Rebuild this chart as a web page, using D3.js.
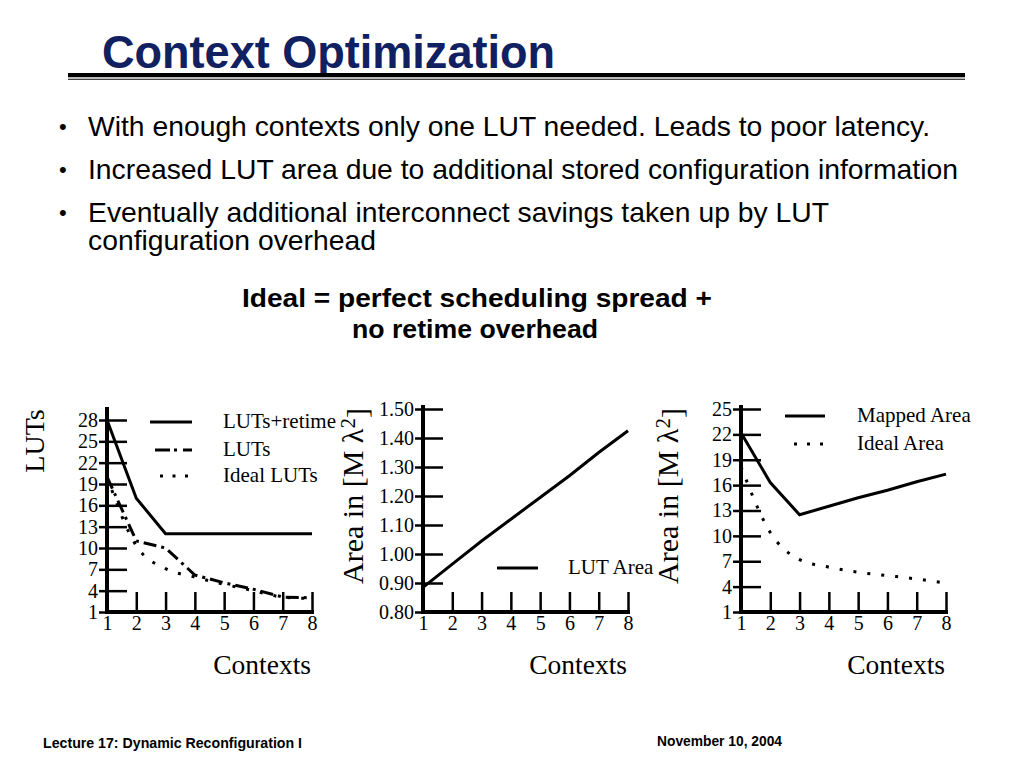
<!DOCTYPE html>
<html>
<head>
<meta charset="utf-8">
<script src="https://cdn.jsdelivr.net/npm/d3@7"></script>
<style>
  body { margin: 0; background: #fff; }
</style>
</head>
<body>
<svg id="slide" width="1024" height="768"></svg>
<script>
// contexts on the x axis of every chart
var contexts = [1, 2, 3, 4, 5, 6, 7, 8];

// left chart: LUT counts
var lutsRetime = [28, 17, 12, 12, 12, 12, 12, 12];
var luts = [20, 11, 10, 6.2, 5.1, 4.2, 3.1, 3];
var idealLuts = [20, 10.3, 7.1, 5.9, 4.9, 4.0, 3.1, 2.9];

// middle chart: LUT area
var lutArea = [0.885, 0.965, 1.045, 1.12, 1.195, 1.27, 1.35, 1.425];

// right chart: total area
var mappedArea = [22.2, 16.3, 12.5, 13.5, 14.5, 15.4, 16.4, 17.3];
var idealArea = [18.2, 10.4, 7.2, 6.3, 5.7, 5.3, 4.9, 4.4];

// tick labels
var lutTicks = [1, 4, 7, 10, 13, 16, 19, 22, 25, 28];
var areaTicks = [0.8, 0.9, 1.0, 1.1, 1.2, 1.3, 1.4, 1.5];
var mappedTicks = [1, 4, 7, 10, 13, 16, 19, 22, 25];

var bullets = [
  "With enough contexts only one LUT needed. Leads to poor latency.",
  "Increased LUT area due to additional stored configuration information",
  "Eventually additional interconnect savings taken up by LUT"
];

var SERIF = "'Liberation Serif', 'Times New Roman', serif";
var SANS = "'Liberation Sans', Arial, Helvetica, sans-serif";
var DOTS = "3,11";

var svg = d3.select("#slide");
svg.append("rect").attr("width", 1024).attr("height", 768).attr("fill", "#fff");

// ---- slide header ----
svg.append("text")
  .attr("x", 102).attr("y", 68)
  .attr("font-family", SANS).attr("font-weight", "bold").attr("font-size", 46)
  .attr("fill", "#102060")
  .attr("textLength", 453).attr("lengthAdjust", "spacingAndGlyphs")
  .text("Context Optimization");

svg.append("rect").attr("x", 68).attr("y", 73).attr("width", 897).attr("height", 4).attr("fill", "#000");
svg.append("rect").attr("x", 68).attr("y", 77).attr("width", 897).attr("height", 2).attr("fill", "#bbb");
svg.append("rect").attr("x", 68).attr("y", 79).attr("width", 897).attr("height", 1).attr("fill", "#444");

// ---- bullets ----
var bulletY = [136, 179, 222];
var bulletW = [842, 870, 741];
bullets.forEach(function (b, i) {
  svg.append("text").attr("x", 59).attr("y", bulletY[i] - 2)
    .attr("font-family", SANS).attr("font-size", 22).text("\u2022");
  svg.append("text").attr("x", 88).attr("y", bulletY[i])
    .attr("font-family", SANS).attr("font-size", 28)
    .attr("textLength", bulletW[i]).attr("lengthAdjust", "spacingAndGlyphs")
    .text(b);
});
svg.append("text").attr("x", 88).attr("y", 250)
  .attr("font-family", SANS).attr("font-size", 28)
  .attr("textLength", 288).attr("lengthAdjust", "spacingAndGlyphs")
  .text("configuration overhead");

svg.append("text").attr("x", 477).attr("y", 307).attr("text-anchor", "middle")
  .attr("font-family", SANS).attr("font-weight", "bold").attr("font-size", 26.5)
  .attr("textLength", 470).attr("lengthAdjust", "spacingAndGlyphs")
  .text("Ideal = perfect scheduling spread +");
svg.append("text").attr("x", 475).attr("y", 338).attr("text-anchor", "middle")
  .attr("font-family", SANS).attr("font-weight", "bold").attr("font-size", 26.5)
  .attr("textLength", 246).attr("lengthAdjust", "spacingAndGlyphs")
  .text("no retime overhead");

// ---- footer ----
svg.append("text").attr("x", 43).attr("y", 748)
  .attr("font-family", SANS).attr("font-weight", "bold").attr("font-size", 14)
  .attr("textLength", 259).attr("lengthAdjust", "spacingAndGlyphs")
  .text("Lecture 17: Dynamic Reconfiguration I");
svg.append("text").attr("x", 657).attr("y", 746)
  .attr("font-family", SANS).attr("font-weight", "bold").attr("font-size", 14)
  .attr("textLength", 125).attr("lengthAdjust", "spacingAndGlyphs")
  .text("November 10, 2004");

// ---- charts ----
function drawChart(cfg) {
  var x = d3.scaleLinear().domain([1, 8]).range([cfg.left, cfg.right]);
  var y = d3.scaleLinear().domain(cfg.yDomain).range([cfg.bottom, cfg.top]);
  var g = svg.append("g");

  var yAxisG = g.append("g")
    .attr("transform", "translate(" + cfg.left + ",0)")
    .call(d3.axisLeft(y).tickValues(cfg.yTicks).tickSize(-20).tickPadding(9)
      .tickFormat(cfg.fmt || d3.format("d")));
  var xAxisG = g.append("g")
    .attr("transform", "translate(0," + cfg.bottom + ")")
    .call(d3.axisBottom(x).tickValues(contexts).tickSize(-20).tickPadding(4)
      .tickFormat(d3.format("d")));

  [yAxisG, xAxisG].forEach(function (a) {
    a.select(".domain").remove();
    a.attr("font-family", SERIF).attr("font-size", 20);
    a.selectAll(".tick text").attr("fill", "#000");
    a.selectAll(".tick line").attr("stroke", "#000").attr("stroke-width", 2.5);
  });
  yAxisG.selectAll(".tick line").attr("x1", -8);

  g.append("line")
    .attr("x1", cfg.left).attr("x2", cfg.left)
    .attr("y1", cfg.axisTop).attr("y2", cfg.bottom + 2)
    .attr("stroke", "#000").attr("stroke-width", 4);
  g.append("line")
    .attr("x1", cfg.left - 2).attr("x2", cfg.right + 2)
    .attr("y1", cfg.bottom).attr("y2", cfg.bottom)
    .attr("stroke", "#000").attr("stroke-width", 4);

  cfg.series.forEach(function (s) {
    var line = d3.line()
      .x(function (d, i) { return x(contexts[i]); })
      .y(function (d) { return y(d); })
      .curve(s.curve || d3.curveLinear);
    g.append("path")
      .attr("d", line(s.values))
      .attr("fill", "none").attr("stroke", "#000").attr("stroke-width", 3)
      .attr("stroke-dasharray", s.dash || null);

    g.append("line")
      .attr("x1", s.lx1).attr("x2", s.lx2).attr("y1", s.ly).attr("y2", s.ly)
      .attr("stroke", "#000").attr("stroke-width", 3)
      .attr("stroke-dasharray", s.legendDash || null);
    g.append("text")
      .attr("x", s.tx).attr("y", s.ly + 6)
      .attr("font-family", SERIF).attr("font-size", 21)
      .text(s.label);
  });

  g.append("text")
    .attr("x", cfg.right - 1).attr("y", 674)
    .attr("text-anchor", "end")
    .attr("font-family", SERIF).attr("font-size", 27.5)
    .text("Contexts");

  var yl = g.append("text")
    .attr("transform", "translate(" + cfg.ylx + "," + cfg.yly + ") rotate(-90)")
    .attr("text-anchor", "middle")
    .attr("font-family", SERIF).attr("font-size", cfg.ylSize);
  if (cfg.sup) {
    yl.append("tspan").text(cfg.ylabel);
    yl.append("tspan").attr("dy", "-0.4em").attr("font-size", cfg.ylSize * 0.7).text(cfg.sup);
    yl.append("tspan").attr("dy", "0.4em").text("]");
  } else {
    yl.text(cfg.ylabel);
  }
}

drawChart({
  left: 107, right: 312, bottom: 612, top: 420, axisTop: 407,
  yDomain: [1, 28], yTicks: lutTicks,
  ylabel: "LUTs", ylx: 44, yly: 441, ylSize: 28,
  series: [
    { values: lutsRetime, label: "LUTs+retime", lx1: 150, lx2: 192, ly: 422, tx: 223 },
    { values: luts, dash: "13,5,3,5", label: "LUTs",
      lx1: 155, lx2: 192, ly: 450, tx: 223, legendDash: "15,4,3,6" },
    { values: idealLuts, dash: DOTS, curve: d3.curveMonotoneX, label: "Ideal LUTs",
      lx1: 160, lx2: 192, ly: 476, tx: 223, legendDash: "3,9.5" }
  ]
});

drawChart({
  left: 423, right: 628, bottom: 612, top: 409, axisTop: 405,
  yDomain: [0.8, 1.5], yTicks: areaTicks, fmt: d3.format(".2f"),
  ylabel: "Area in [M \u03bb", sup: "2", ylx: 363, yly: 496, ylSize: 30,
  series: [
    { values: lutArea, label: "LUT Area", lx1: 497, lx2: 538, ly: 568, tx: 568 }
  ]
});

drawChart({
  left: 741, right: 946, bottom: 612, top: 409, axisTop: 405,
  yDomain: [1, 25], yTicks: mappedTicks,
  ylabel: "Area in [M \u03bb", sup: "2", ylx: 678, yly: 496, ylSize: 30,
  series: [
    { values: mappedArea, label: "Mapped Area", lx1: 785, lx2: 825, ly: 416, tx: 857 },
    { values: idealArea, dash: DOTS, curve: d3.curveMonotoneX, label: "Ideal Area",
      lx1: 794, lx2: 825, ly: 444, tx: 857, legendDash: "3,10" }
  ]
});
</script>
</body>
</html>
